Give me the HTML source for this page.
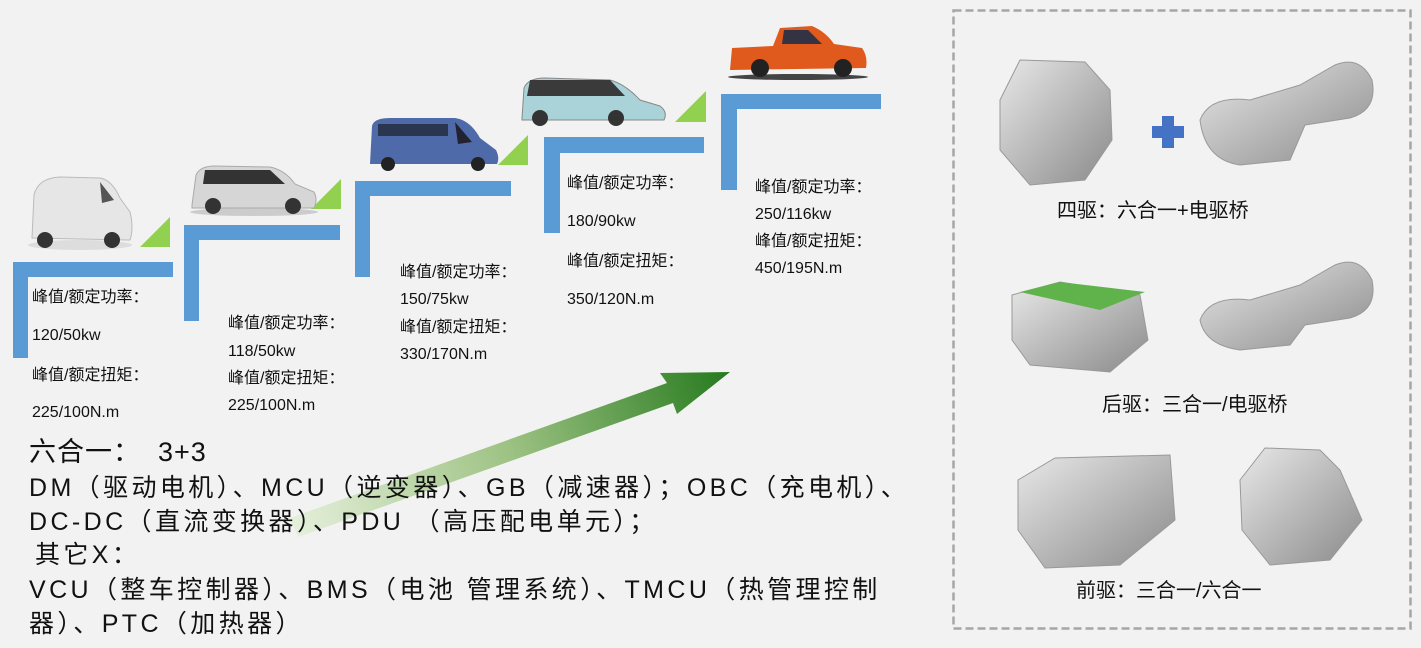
<!DOCTYPE html>
<html><head><meta charset="utf-8"><style>
body{margin:0;width:1421px;height:648px;background:#f2f2f2;position:relative;overflow:hidden;font-family:"Liberation Sans","Noto Sans CJK SC",sans-serif;color:#111}
.t{position:absolute;font-size:16px;white-space:nowrap;line-height:20px}
.b{position:absolute;font-size:25px;white-space:nowrap;line-height:30px;letter-spacing:3.4px}
.l{position:absolute;font-size:20px;white-space:nowrap;line-height:24px}
</style></head><body>
<svg width="1421" height="648" style="position:absolute;left:0;top:0">
<defs>
<linearGradient id="ag" x1="290" y1="528" x2="730" y2="372" gradientUnits="userSpaceOnUse">
<stop offset="0" stop-color="#e6f0dc"/><stop offset="0.5" stop-color="#9dc283"/><stop offset="1" stop-color="#267a1e"/></linearGradient>
<linearGradient id="gm" x1="0" y1="0" x2="1" y2="1"><stop offset="0" stop-color="#e8e8e8"/><stop offset="1" stop-color="#8a8a8a"/></linearGradient>
</defs>
<g fill="#5b9bd5">
<rect x="13" y="262" width="160" height="15"/><rect x="13" y="262" width="15" height="96"/>
<rect x="184" y="225" width="156" height="15"/><rect x="184" y="225" width="15" height="96"/>
<rect x="355" y="181" width="156" height="15"/><rect x="355" y="181" width="15" height="96"/>
<rect x="544" y="137" width="160" height="16"/><rect x="544" y="137" width="16" height="96"/>
<rect x="721" y="94" width="160" height="15"/><rect x="721" y="94" width="16" height="96"/>
</g>
<g fill="#92d050">
<polygon points="140,247 170,247 170,217"/>
<polygon points="311,209 341,209 341,179"/>
<polygon points="498,165 528,165 528,135"/>
<polygon points="675,122 706,122 706,91"/>
</g>
<polygon fill="url(#ag)" points="290,518 667,383 660,373 730,372 677,414 673,403 298,537"/>
<g>
<ellipse cx="80" cy="245" rx="52" ry="5" fill="#ddd"/>
<path d="M32 238 L34 195 Q38 178 60 177 L100 178 Q112 180 120 198 L130 212 Q134 228 130 240 Z" fill="#e6e6e6" stroke="#bbb"/>
<path d="M100 182 L114 200 L102 203 Z" fill="#555"/>
<circle cx="45" cy="240" r="8" fill="#333"/><circle cx="112" cy="240" r="8" fill="#333"/>
<ellipse cx="254" cy="212" rx="64" ry="4" fill="#ccc"/>
<path d="M192 205 L196 175 Q200 166 215 166 L270 167 Q285 170 295 184 L314 192 Q318 200 314 208 L192 208 Z" fill="#d6d6d6" stroke="#aaa"/>
<path d="M205 170 L270 170 L285 184 L203 184 Z" fill="#333"/>
<circle cx="213" cy="206" r="8" fill="#333"/><circle cx="293" cy="206" r="8" fill="#333"/>
<path d="M370 164 L372 126 Q374 118 390 118 L455 118 Q470 120 480 138 L496 150 Q500 158 497 164 Z" fill="#4f6aa8"/>
<path d="M455 122 L472 142 L458 144 Z" fill="#223"/><rect x="378" y="124" width="70" height="12" fill="#2a3550"/>
<circle cx="388" cy="164" r="7" fill="#222"/><circle cx="478" cy="164" r="7" fill="#222"/>
<path d="M522 118 L524 88 Q528 78 545 78 L610 80 Q625 84 640 100 L660 106 Q668 112 664 120 L522 120 Z" fill="#a9d3d8" stroke="#888"/>
<path d="M530 80 L610 80 L625 96 L527 96 Z" fill="#3a3a3a"/>
<circle cx="540" cy="118" r="8" fill="#333"/><circle cx="616" cy="118" r="8" fill="#333"/>
<ellipse cx="798" cy="77" rx="70" ry="3" fill="#444"/>
<path d="M730 70 L732 48 L773 46 L780 28 L812 26 Q826 32 834 44 L862 48 Q868 56 866 68 L730 70 Z" fill="#e05a1e"/>
<path d="M784 30 L808 30 L822 44 L782 44 Z" fill="#334"/>
<circle cx="760" cy="68" r="9" fill="#222"/><circle cx="843" cy="68" r="9" fill="#222"/>
</g>
<rect x="953.5" y="10.5" width="457" height="618" fill="none" stroke="#a6a6a6" stroke-width="2.5" stroke-dasharray="8,4"/>
<g fill="url(#gm)" stroke="#999">
<path d="M1000 100 L1020 60 L1085 62 L1110 90 L1112 140 L1085 180 L1030 185 L1000 150 Z"/>
<path d="M1200 120 Q1210 95 1250 100 L1300 85 L1335 65 Q1360 55 1372 80 Q1378 110 1350 118 L1305 125 L1290 160 L1240 165 Q1205 160 1200 120 Z"/>
<path d="M1200 320 Q1210 295 1250 300 L1300 285 L1335 265 Q1360 255 1372 280 Q1378 310 1350 318 L1305 325 L1290 345 L1240 350 Q1205 345 1200 320 Z"/>
<path d="M1012 295 L1060 282 L1140 295 L1148 340 L1110 372 L1030 365 L1012 340 Z"/>
<path d="M1018 480 L1055 458 L1170 455 L1175 520 L1120 565 L1045 568 L1018 530 Z"/>
<path d="M1240 480 L1265 448 L1320 450 L1340 470 L1362 520 L1330 560 L1270 565 L1242 530 Z"/>
</g>
<polygon points="1020,292 1060,282 1145,292 1100,310" fill="#5fb34a"/>
<path d="M1162 116 h12 v10 h10 v12 h-10 v10 h-12 v-10 h-10 v-12 h10 z" fill="#4472c4"/>
</svg>
<div class="t" style="left:32px;top:288px">峰值/额定功率：</div>
<div class="t" style="left:32px;top:326px">120/50kw</div>
<div class="t" style="left:32px;top:366px">峰值/额定扭矩：</div>
<div class="t" style="left:32px;top:403px">225/100N.m</div>
<div class="t" style="left:228px;top:314px">峰值/额定功率：</div>
<div class="t" style="left:228px;top:342px">118/50kw</div>
<div class="t" style="left:228px;top:369px">峰值/额定扭矩：</div>
<div class="t" style="left:228px;top:396px">225/100N.m</div>
<div class="t" style="left:400px;top:263px">峰值/额定功率：</div>
<div class="t" style="left:400px;top:290px">150/75kw</div>
<div class="t" style="left:400px;top:318px">峰值/额定扭矩：</div>
<div class="t" style="left:400px;top:345px">330/170N.m</div>
<div class="t" style="left:567px;top:174px">峰值/额定功率：</div>
<div class="t" style="left:567px;top:212px">180/90kw</div>
<div class="t" style="left:567px;top:252px">峰值/额定扭矩：</div>
<div class="t" style="left:567px;top:290px">350/120N.m</div>
<div class="t" style="left:755px;top:178px">峰值/额定功率：</div>
<div class="t" style="left:755px;top:205px">250/116kw</div>
<div class="t" style="left:755px;top:232px">峰值/额定扭矩：</div>
<div class="t" style="left:755px;top:259px">450/195N.m</div>
<div class="b" style="left:29px;top:437px;font-size:27px;letter-spacing:1px">六合一：&nbsp;&nbsp;3+3</div>
<div class="b" style="left:29px;top:473px">DM（驱动电机）、MCU（逆变器）、GB（减速器）；OBC（充电机）、</div>
<div class="b" style="left:29px;top:507px">DC-DC（直流变换器）、PDU （高压配电单元）；</div>
<div class="b" style="left:35px;top:540px">其它X：</div>
<div class="b" style="left:29px;top:575px">VCU（整车控制器）、BMS（电池 管理系统）、TMCU（热管理控制</div>
<div class="b" style="left:29px;top:609px">器）、PTC（加热器）</div>
<div class="l" style="left:1057px;top:199px">四驱：六合一+电驱桥</div>
<div class="l" style="left:1102px;top:393px">后驱：三合一/电驱桥</div>
<div class="l" style="left:1076px;top:579px">前驱：三合一/六合一</div>
</body></html>
